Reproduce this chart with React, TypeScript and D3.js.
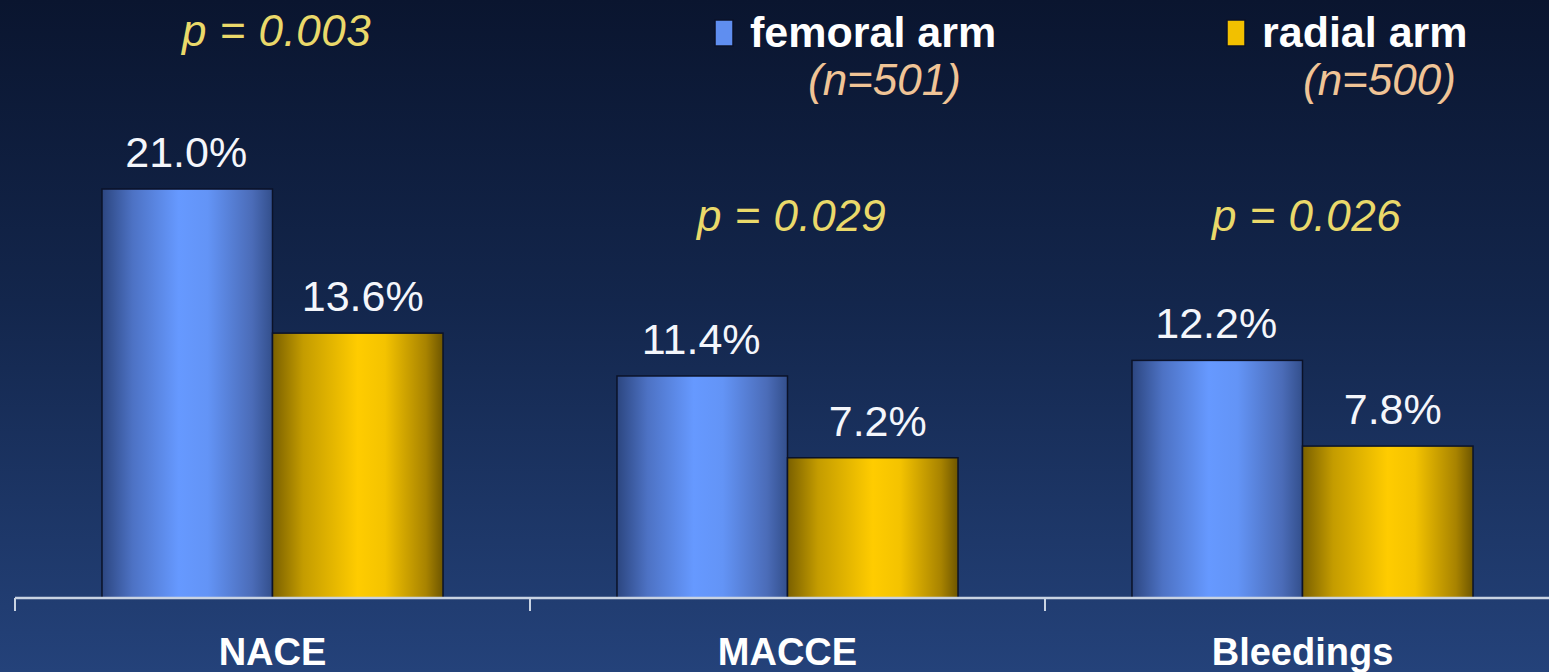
import React from "react";
import * as d3 from "d3";

// Chart values
const categories = ["NACE", "MACCE", "Bleedings"];
const femoral = [21.0, 11.4, 12.2];
const radial = [13.6, 7.2, 7.8];
const pValues = ["0.003", "0.029", "0.026"];
const seriesNames = ["femoral arm", "radial arm"];
const seriesCounts = ["(n=501)", "(n=500)"];

const App = () => {
  const width = 1549;
  const height = 672;
  const baseline = 598;

  const x = d3.scaleBand<string>().domain(categories).range([15, 1560]);
  const inner = d3
    .scaleBand<number>()
    .domain([0, 1])
    .range([0, x.bandwidth()])
    .paddingInner(0)
    .paddingOuter(0.51);
  const y = d3.scaleLinear().domain([0, 21]).range([baseline, 189]);

  // p label baselines (first group sits above its tall bar, the others share a line)
  const pY = [46, 231, 231];
  const font = "'Liberation Sans', Arial, sans-serif";
  const series = [femoral, radial];
  const fills = ["url(#blueBar)", "url(#goldBar)"];
  const swatch = ["#5f8ef0", "#f2c000"];
  const labelShift = [-1, 5];

  return (
    <svg
      width={width}
      height={height}
      style={{ position: "absolute", left: 0, top: 0, display: "block" }}
    >
      <defs>
        <linearGradient id="bg" x1="0" y1="0" x2="0" y2="1">
          <stop offset="0" stopColor="#0a152f" />
          <stop offset="0.45" stopColor="#13264c" />
          <stop offset="1" stopColor="#24427a" />
        </linearGradient>
        <linearGradient id="blueBar" x1="0" y1="0" x2="1" y2="0">
          <stop offset="0" stopColor="#2c4680" />
          <stop offset="0.18" stopColor="#4d72c4" />
          <stop offset="0.45" stopColor="#6699ff" />
          <stop offset="0.62" stopColor="#6394f6" />
          <stop offset="0.88" stopColor="#4b6cb8" />
          <stop offset="1" stopColor="#334f8c" />
        </linearGradient>
        <linearGradient id="goldBar" x1="0" y1="0" x2="1" y2="0">
          <stop offset="0" stopColor="#7a6000" />
          <stop offset="0.18" stopColor="#c49c00" />
          <stop offset="0.5" stopColor="#ffcc00" />
          <stop offset="0.66" stopColor="#f4c300" />
          <stop offset="0.9" stopColor="#a88300" />
          <stop offset="1" stopColor="#6e5600" />
        </linearGradient>
      </defs>

      <rect x={0} y={0} width={width} height={height} fill="url(#bg)" />

      {/* bars and value labels */}
      {categories.map((c, i) => (
        <g key={c}>
          {series.map((vals, s) => {
            const bx = (x(c) ?? 0) + (inner(s) ?? 0);
            const bw = inner.bandwidth();
            return (
              <g key={s}>
                <rect
                  x={bx}
                  y={y(vals[i])}
                  width={bw}
                  height={baseline - y(vals[i])}
                  fill={fills[s]}
                  stroke="#0b1228"
                  strokeWidth={1.5}
                />
                <text
                  x={bx + bw / 2 + labelShift[s]}
                  y={y(vals[i]) - 22}
                  textAnchor="middle"
                  fontFamily={font}
                  fontSize={43}
                  fill="#f4f6fb"
                >
                  {vals[i].toFixed(1)}%
                </text>
              </g>
            );
          })}
          <text
            x={(x(c) ?? 0) + x.bandwidth() / 2 + 4}
            y={pY[i]}
            textAnchor="middle"
            fontFamily={font}
            fontStyle="italic"
            fontSize={44}
            letterSpacing={0.5}
            fill="#ead96a"
          >
            p = {pValues[i]}
          </text>
          <text
            x={(x(c) ?? 0) + x.bandwidth() / 2}
            y={665}
            textAnchor="middle"
            fontFamily={font}
            fontWeight="bold"
            fontSize={38}
            fill="#ffffff"
          >
            {c}
          </text>
        </g>
      ))}

      {/* category axis */}
      <line x1={15} x2={width} y1={baseline} y2={baseline} stroke="#c9d3e2" strokeWidth={2.5} />
      {categories.map((c) => (
        <line
          key={c}
          x1={x(c)}
          x2={x(c)}
          y1={baseline}
          y2={611}
          stroke="#c9d3e2"
          strokeWidth={2}
        />
      ))}

      {/* legend */}
      {seriesNames.map((name, s) => {
        const lx = [715, 1227][s];
        return (
          <g key={name} transform={`translate(${lx},0)`}>
            <rect x={0} y={20} width={18} height={26} fill={swatch[s]} stroke="#0b1228" strokeWidth={1.5} />
            <text x={35} y={47} fontFamily={font} fontWeight="bold" fontSize={43} fill="#ffffff">
              {name}
            </text>
            <text
              x={[93, 76][s]}
              y={95}
              fontFamily={font}
              fontStyle="italic"
              fontSize={44}
              fill="#f0c496"
            >
              {seriesCounts[s]}
            </text>
          </g>
        );
      })}
    </svg>
  );
};

export default App;
